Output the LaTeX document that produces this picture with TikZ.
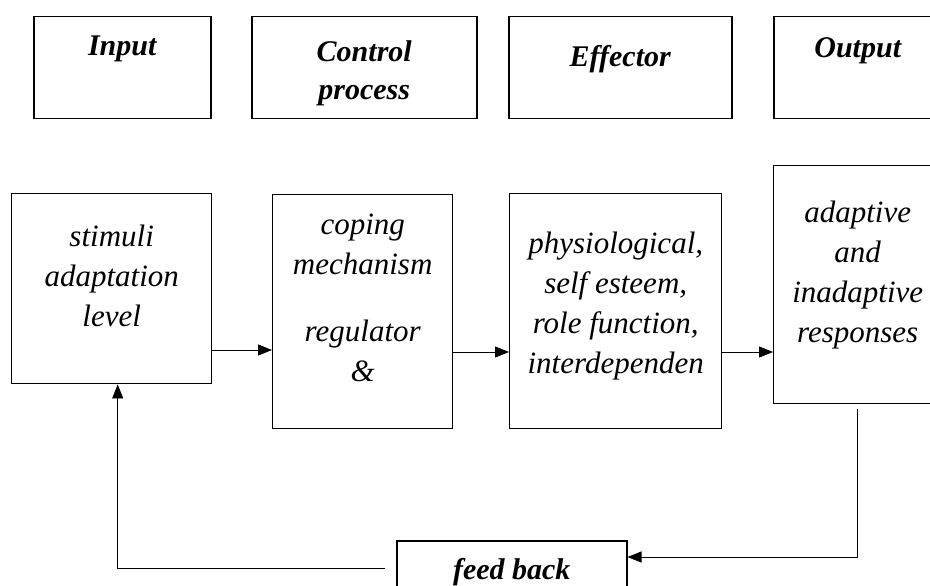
\documentclass[tikz,border=0pt]{standalone}
\usepackage{fontspec}
\setmainfont{Liberation Serif}
\usetikzlibrary{arrows.meta}

\begin{document}
\begin{tikzpicture}[
        x=1pt, y=-1pt,
        head/.style={draw, line width=1.5pt, anchor=north west, inner sep=0pt, align=center,
            font=\fontsize{30}{38}\selectfont\bfseries\itshape},
        stage/.style={draw, line width=1.4pt, anchor=north west, inner sep=0pt, align=center,
            font=\fontsize{31}{40}\selectfont\itshape},
        pad/.style 2 args={text height=#1, text depth=#2},
        flow/.style={line width=0.8pt, -{Triangle[length=14pt,width=11pt]}},
        link/.style={line width=0.8pt}
    ]
    \useasboundingbox (0,0) rectangle (930,586);
    \clip (0,0) rectangle (930,586);
    % headings
    \node[head, minimum width=177pt, pad={39pt}{63pt}] (input) at (33,16) {Input};
    \node[head, minimum width=225pt, pad={83pt}{19pt}] (control) at (251,16) {Control\\process};
    \node[head, minimum width=223pt, pad={50pt}{52pt}] (effector) at (508,16) {Effector};
    \node[head, minimum width=168pt, pad={41pt}{61pt}] (output) at (773,16) {Output};
    % stages
    \node[stage, minimum width=200pt, pad={133pt}{57pt}] (stim) at (11,193)
        {stimuli\\adaptation\\level};
    \node[stage, minimum width=180pt, pad={187pt}{47pt}] (cope) at (272,194)
        {coping\\mechanism\\[27pt]regulator\\\&};
    \node[stage, minimum width=212pt, pad={180pt}{55pt}] (eff) at (509,193)
        {physiological,\\self esteem,\\role function,\\interdependen};
    \node[stage, minimum width=168pt, pad={177pt}{61pt}] (resp) at (773,165)
        {adaptive\\and\\inadaptive\\responses};
    \node[head, minimum width=230pt, pad={39pt}{45pt}] (feedback) at (396,540) {feed back};
    % connectors
    \draw[flow] (stim.east |- 0,350) -- (cope.west |- 0,350);
    \draw[flow] (cope.east |- 0,352) -- (eff.west |- 0,352);
    \draw[flow] (eff.east |- 0,352) -- (resp.west |- 0,352);
    \coordinate (fbin) at (feedback.east |- 0,557);
    \draw[flow] ([yshift=-5pt]resp.south) |- (fbin);
    \coordinate (fbout) at ([xshift=-11pt]feedback.west |- 0,568);
    \draw[flow] (fbout) -| ([xshift=6pt]stim.south);
\end{tikzpicture}
\end{document}
